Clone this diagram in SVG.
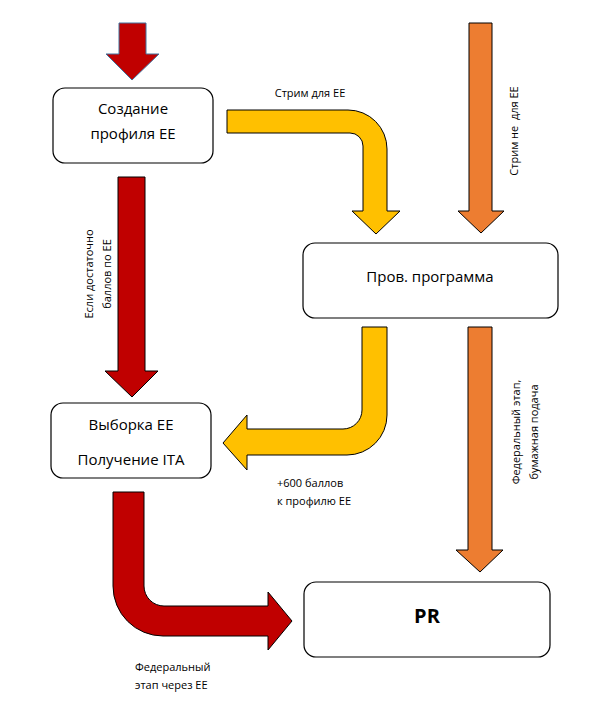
<svg xmlns="http://www.w3.org/2000/svg" width="600" height="715" viewBox="0 0 600 715">
<style>
.box{fill:#fff;stroke:#000;stroke-width:1.2}
.t{font-family:"Open Sans",sans-serif;font-size:15px;text-anchor:middle;dominant-baseline:central;fill:#000}
.s{font-family:"Open Sans",sans-serif;font-size:11px;fill:#000}
.sc{text-anchor:middle;dominant-baseline:central}
.r{fill:#C00000;stroke:#000;stroke-width:1}
.y{fill:#FFC000;stroke:#000;stroke-width:1}
.o{fill:#ED7D31;stroke:#000;stroke-width:1}
</style>
<rect width="600" height="715" fill="#fff"/>
<g id="connectors">
<path d="M119,23 H146 V54 H159 L132,80 L106,54 H119 Z" fill="#C00000" stroke="#41719C" stroke-width="1"/>
<path class="y" d="M227,110 H348 A39,39 0 0 1 387,149 V211 H400 L376,234 L352,211 H363 V146 A13,13 0 0 0 350,133 H227 Z"/>
<path class="o" d="M469,23 H492 V211 H504 L481,233 L458,211 H469 Z"/>
<path class="r" d="M118,177 H145 V371 H158 L132,397 L105,371 H118 Z"/>
<path class="y" d="M362,327 H387 V415 A40,40 0 0 1 347,455 H247 V470 L223,443 L247,415 V429 H343 A19,19 0 0 0 362,410 Z"/>
<path class="o" d="M468,327 H492 V550 H503 L480,572 L456,550 H468 Z"/>
<path class="r" d="M113,492 H144 V586 A20,20 0 0 0 164,606 H268 V592 L292,621 L268,650 V636 H163 A50,50 0 0 1 113,586 Z"/>
<text class="s sc" x="310" y="92">Стрим для ЕЕ</text>
<text class="s sc" transform="translate(513,131) rotate(-90)" xml:space="preserve">Стрим не  для ЕЕ</text>
<text class="s sc" transform="translate(88,274) rotate(-90)">Если достаточно</text>
<text class="s sc" transform="translate(106,274) rotate(-90)">баллов по ЕЕ</text>
<text class="s" x="277" y="487">+600 баллов</text>
<text class="s" x="277" y="505">к профилю ЕЕ</text>
<text class="s sc" transform="translate(515,432) rotate(-90)">Федеральный этап,</text>
<text class="s sc" transform="translate(533,432) rotate(-90)">бумажная подача</text>
<text class="s" x="135" y="671">Федеральный</text>
<text class="s" x="135" y="689">этап через ЕЕ</text>
</g>
<g id="node-profile">
<rect class="box" x="53" y="88" width="160" height="75" rx="12"/>
<text class="t" x="133" y="108">Создание</text>
<text class="t" x="133" y="133">профиля ЕЕ</text>
</g>
<g id="node-prov">
<rect class="box" x="303" y="243" width="255" height="75" rx="12"/>
<text class="t" x="430" y="276">Пров. программа</text>
</g>
<g id="node-draw">
<rect class="box" x="51" y="403" width="160" height="75" rx="12"/>
<text class="t" x="131" y="424">Выборка ЕЕ</text>
<text class="t" x="131" y="459">Получение ITA</text>
</g>
<g id="node-pr">
<rect class="box" x="304" y="582" width="246" height="75" rx="12"/>
<text class="t" x="427" y="615" style="font-weight:bold;font-size:20px">PR</text>
</g>
</svg>
